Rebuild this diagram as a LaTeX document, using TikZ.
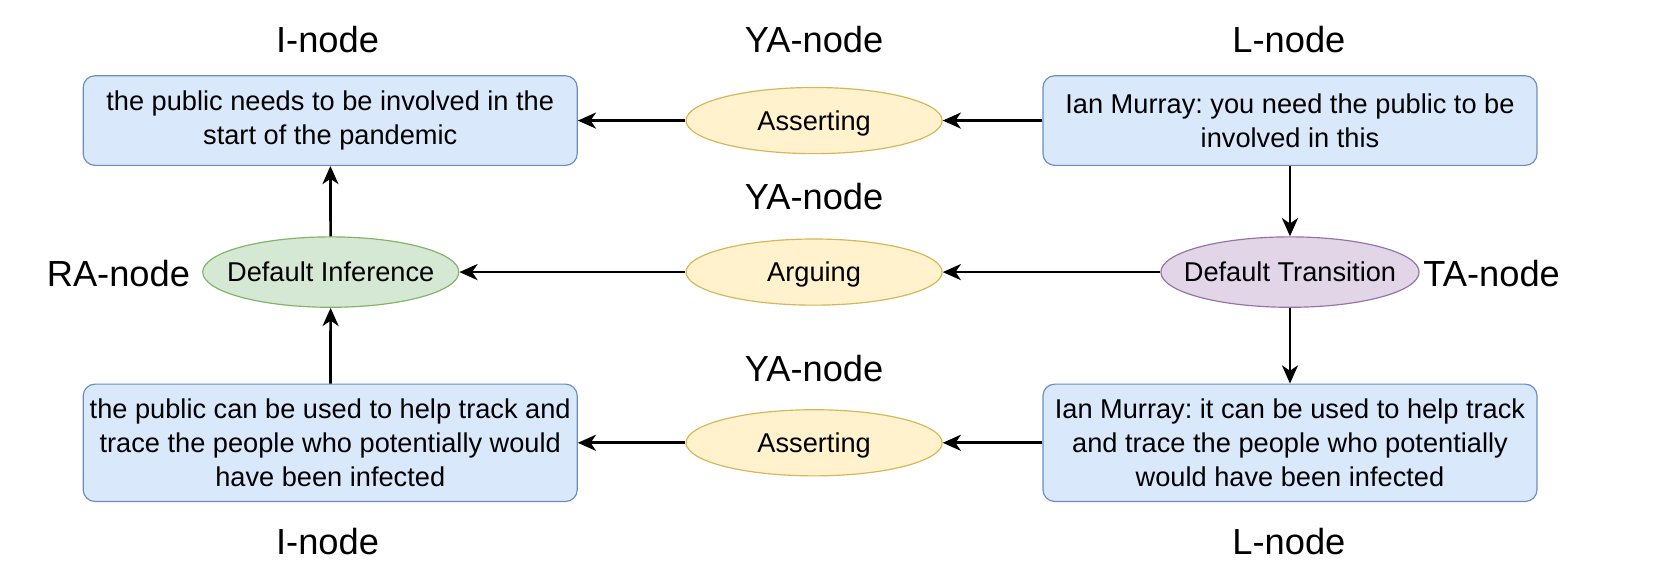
\documentclass[tikz,border=0pt]{standalone}
\usepackage{fontspec}
\setmainfont{Liberation Sans}
\frenchspacing
\usetikzlibrary{arrows.meta,shapes.geometric}
\definecolor{bfill}{HTML}{DAE8FC}\definecolor{bdraw}{HTML}{6C8EBF}
\definecolor{yfill}{HTML}{FFF2CC}\definecolor{ydraw}{HTML}{D6B656}
\definecolor{gfill}{HTML}{D5E8D4}\definecolor{gdraw}{HTML}{82B366}
\definecolor{pfill}{HTML}{E1D5E7}\definecolor{pdraw}{HTML}{9673A6}
\tikzset{
  txt/.style={font=\fontsize{25.5}{32}\selectfont, align=center, inner sep=0pt},
  box/.style={txt, draw=bdraw, fill=bfill, line width=1.1pt, rounded corners=11pt,
    minimum width=463pt, minimum height=84pt},
  ell/.style={txt, ellipse, line width=1.1pt, minimum width=240pt, minimum height=62pt,
    text height=20pt, text depth=1.5pt},
  yell/.style={ell, draw=ydraw, fill=yfill},
  lbl/.style={font=\fontsize{34}{40}\selectfont, inner sep=0pt},
  conn/.style={line width=2.5pt, -{Stealth[length=17pt,width=15pt,inset=5pt]}},
}
\newcommand{\nw}[1]{\makebox[0pt]{#1}}
\begin{document}
\begin{tikzpicture}[x=1pt,y=-1pt]
\useasboundingbox (0,0) rectangle (1568,542);
% labels
\node[lbl] (l1) at (307,37) {I-node};
\node[lbl] (l2) at (763,37) {YA-node};
\node[lbl] (l3) at (1208,37) {L-node};
\node[lbl] (l4) at (763,184) {YA-node};
\node[lbl] (l5) at (111,256) {RA-node};
\node[lbl] (l6) at (1398,256) {TA-node};
\node[lbl] (l7) at (763,345) {YA-node};
\node[lbl] (l8) at (307,508) {I-node};
\node[lbl] (l9) at (1208,508) {L-node};
% boxes
\node[box] (i1) at (309.5,113) {the public needs to be involved in the\\start of the pandemic};
\node[box] (L1) at (1209,113) {Ian Murray: you need the public to be\\involved in this};
\node[box, minimum height=110pt] (i2) at (309.5,415) {the public can be used to help track and\\trace the people who potentially would\\have been infected};
\node[box, minimum height=110pt] (L2) at (1209,415) {Ian Murray: it can be used to help track\\and trace the people who potentially\\would have been infected};
% ellipses
\node[yell] (ya1) at (763,113) {Asserting};
\node[yell] (ya2) at (763,255) {Arguing};
\node[yell] (ya3) at (763,415) {Asserting};
\node[ell, draw=gdraw, fill=gfill, minimum height=66pt] (ra) at (310,255) {\nw{Default Inference}};
\node[ell, draw=pdraw, fill=pfill, minimum width=242pt, minimum height=66pt] (ta) at (1209,255) {\nw{Default Transition}};
% connectors
\draw[conn] (L1) -- (ya1);
\draw[conn] (ya1) -- (i1);
\draw[conn] (ta) -- (ya2);
\draw[conn] (ya2) -- (ra);
\draw[conn] (L2) -- (ya3);
\draw[conn] (ya3) -- (i2);
\draw[conn] (ra) -- (i1);
\draw[conn] (i2) -- (ra);
\draw[conn] (L1) -- (ta);
\draw[conn] (ta) -- (L2);
\end{tikzpicture}
\end{document}
